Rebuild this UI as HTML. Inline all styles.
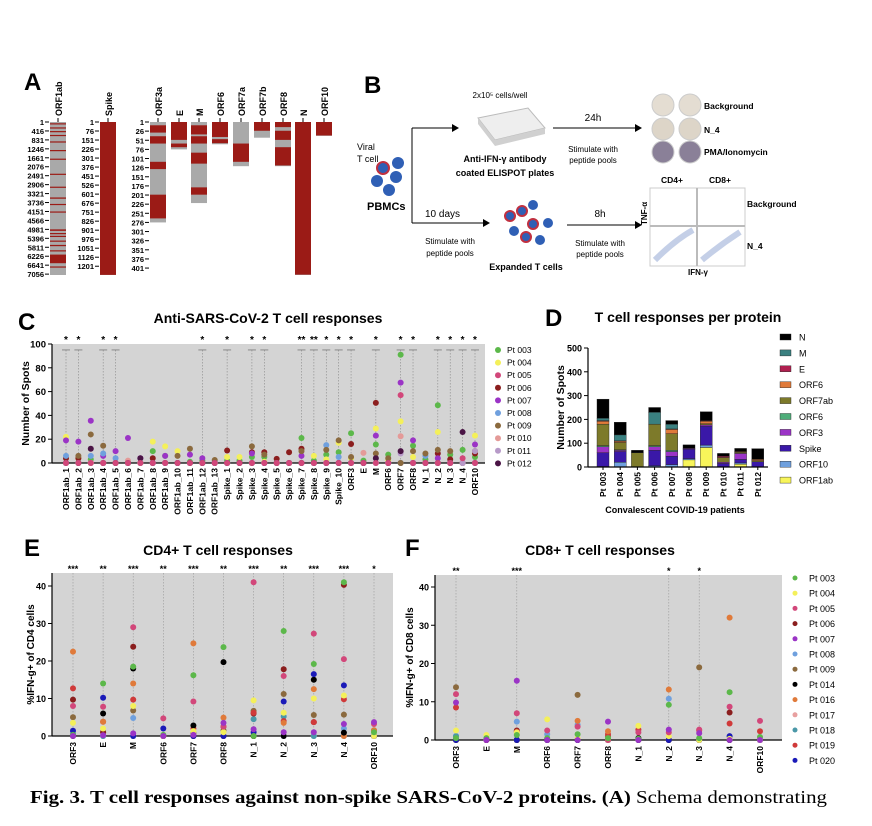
<!DOCTYPE html>
<html><head><meta charset="utf-8"><style>
html,body{margin:0;padding:0;background:#fff;}
svg{display:block;font-family:"Liberation Sans",Arial,sans-serif;}
.b{font-weight:bold;}
</style></head><body>
<svg id="fig" width="872" height="826" viewBox="0 0 872 826" xmlns="http://www.w3.org/2000/svg">
<rect width="872" height="826" fill="#fff"/>
<!-- Panel A -->
<g id="panelA">
<text x="24" y="90" font-size="24" class="b">A</text>
</g>
<!-- Panel B -->
<g id="panelB" font-family="Liberation Sans, sans-serif">
<text x="364" y="93" font-size="24" class="b">B</text>
<text x="357" y="150" font-size="9">Viral</text>
<text x="357" y="162" font-size="9">T cell</text>
<circle cx="383" cy="168" r="6" fill="#2f5fb5" stroke="#c03040" stroke-width="2"/>
<circle cx="398" cy="163" r="6" fill="#2f5fb5"/>
<circle cx="377" cy="181" r="6" fill="#2f5fb5"/>
<circle cx="396" cy="177" r="6" fill="#2f5fb5"/>
<circle cx="389" cy="190" r="6" fill="#2f5fb5"/>
<text x="367" y="210" font-size="11" class="b">PBMCs</text>
<path d="M412 128 V223 M412 128 H452 M412 223 H483" stroke="#000" stroke-width="1" fill="none"/>
<path d="M452 124 L459 128 L452 132 Z M483 219 L490 223 L483 227 Z" fill="#000"/>
<text x="425" y="217" font-size="10">10 days</text>
<text x="450" y="244" font-size="8" text-anchor="middle">Stimulate with</text>
<text x="450" y="256" font-size="8" text-anchor="middle">peptide pools</text>
<path d="M478 118 L528 108 L545 128 L495 140 Z" fill="#eeeeee" stroke="#bbb"/>
<path d="M495 140 L545 128 L545 134 L495 146 Z M478 118 L495 140 L495 146 L478 124 Z" fill="#d0d0d0"/>
<text x="500" y="98" font-size="8" text-anchor="middle">2x10⁵ cells/well</text>
<text x="505" y="162" font-size="9" class="b" text-anchor="middle">Anti-IFN-γ antibody</text>
<text x="505" y="176" font-size="9" class="b" text-anchor="middle">coated ELISPOT plates</text>
<path d="M553 128 H635 M567 225 H635" stroke="#000"/>
<path d="M635 124 L642 128 L635 132 Z M635 221 L642 225 L635 229 Z" fill="#000"/>
<text x="593" y="121" font-size="10" text-anchor="middle">24h</text>
<text x="593" y="152" font-size="8" text-anchor="middle">Stimulate with</text>
<text x="593" y="163" font-size="8" text-anchor="middle">peptide pools</text>
<text x="600" y="217" font-size="10" text-anchor="middle">8h</text>
<text x="600" y="246" font-size="8" text-anchor="middle">Stimulate with</text>
<text x="600" y="257" font-size="8" text-anchor="middle">peptide pools</text>
<circle cx="663" cy="105" r="11" fill="#e4ddd2" stroke="#ccc"/>
<circle cx="690" cy="105" r="11" fill="#e4ddd2" stroke="#ccc"/>
<circle cx="663" cy="129" r="11" fill="#ddd5c8" stroke="#ccc"/>
<circle cx="690" cy="129" r="11" fill="#ddd5c8" stroke="#ccc"/>
<circle cx="663" cy="152" r="11" fill="#8a8098" stroke="#ccc"/>
<circle cx="690" cy="152" r="11" fill="#8a8098" stroke="#ccc"/>
<text x="704" y="109" font-size="8.5" class="b">Background</text>
<text x="704" y="133" font-size="8.5" class="b">N_4</text>
<text x="704" y="155" font-size="8.5" class="b">PMA/Ionomycin</text>
<circle cx="510" cy="216" r="5" fill="#2f5fb5" stroke="#c03040" stroke-width="2"/>
<circle cx="522" cy="211" r="5" fill="#2f5fb5" stroke="#c03040" stroke-width="2"/>
<circle cx="533" cy="205" r="5" fill="#2f5fb5"/>
<circle cx="533" cy="224" r="5" fill="#2f5fb5" stroke="#c03040" stroke-width="2"/>
<circle cx="548" cy="223" r="5" fill="#2f5fb5"/>
<circle cx="514" cy="231" r="5" fill="#2f5fb5"/>
<circle cx="526" cy="237" r="5" fill="#2f5fb5" stroke="#c03040" stroke-width="2"/>
<circle cx="540" cy="240" r="5" fill="#2f5fb5"/>
<text x="526" y="270" font-size="9" class="b" text-anchor="middle">Expanded T cells</text>
<rect x="650" y="188" width="95" height="78" fill="#fff" stroke="#ccc"/>
<path d="M697 188 V266 M650 226 H745" stroke="#bbb" stroke-width="2"/>
<path d="M655 260 Q675 240 693 230 M702 260 Q720 245 740 232" stroke="#8aa0d0" stroke-width="6" fill="none" opacity="0.5"/>
<text x="672" y="183" font-size="8.5" class="b" text-anchor="middle">CD4+</text>
<text x="720" y="183" font-size="8.5" class="b" text-anchor="middle">CD8+</text>
<text transform="translate(647,225) rotate(-90)" font-size="8" class="b">TNF-α</text>
<text x="747" y="207" font-size="8.5" class="b">Background</text>
<text x="747" y="249" font-size="8.5" class="b">N_4</text>
<text x="698" y="275" font-size="8" class="b" text-anchor="middle">IFN-γ</text>
</g>
<g id="panelC"></g>
<g id="panelD"></g>
<g id="panelE"></g>
<g id="panelF"></g>
<text x="30" y="803" font-family="Liberation Serif, serif" font-size="18" textLength="797" lengthAdjust="spacingAndGlyphs"><tspan font-weight="bold">Fig. 3. T cell responses against non-spike SARS-CoV-2 proteins. (A)</tspan> Schema demonstrating</text>
</svg>
<script>
const NS='http://www.w3.org/2000/svg';
function mk(tag,attrs,parent,txt){const e=document.createElementNS(NS,tag);for(const k in attrs)e.setAttribute(k,attrs[k]);if(txt!==undefined)e.textContent=txt;parent.appendChild(e);return e;}

// ---------- Panel A data ----------
const aProteins=['ORF1ab','Spike','ORF3a','E','M','ORF6','ORF7a','ORF7b','ORF8','N','ORF10'];
const aLengths=[7096,1273,275,75,222,61,121,43,121,419,38];
const aTicks1ab=['1','416','831','1246','1661','2076','2491','2906','3321','3736','4151','4566','4981','5396','5811','6226','6641','7056'];
const aTicksSpike=['1','76','151','226','301','376','451','526','601','676','751','826','901','976','1051','1126','1201'];
const aTicksSmall=['1','26','51','76','101','126','151','176','201','226','251','276','301','326','351','376','401'];
// red (covered) segments as [start,end] residue positions
const aRed=[
 [[60,110],[250,300],[420,450],[600,640],[900,930],[1300,1340],[1700,1730],[2400,2450],[3000,3030],[3500,3560],[3800,3830],[4150,4190],[4980,5050],[5150,5200],[5280,5320],[5500,5540],[5700,5760],[5950,6000],[6150,6550],[6700,6720]],
 [[1,1273]],
 [[10,30],[40,60],[110,130],[200,265]],
 [[1,50],[60,70]],
 [[10,35],[40,60],[85,115],[180,200]],
 [[1,42],[48,59]],
 [[60,110]],
 [[1,25]],
 [[1,15],[25,50],[70,120]],
 [[1,419]],
 [[1,38]]
];
(function(){
 const g=document.getElementById('panelA');
 const barX=[50,100,150,171,191,212,233,254,275,295,316];
 const top=122,fullH=153;
 const scaleLen=[7096,1273,419,419,419,419,419,419,419,419,419];
 aProteins.forEach((p,i)=>{
  const ppx=fullH/scaleLen[i];
  const h=aLengths[i]*ppx;
  const r=mk('rect',{x:barX[i],y:top,width:16,height:h,fill:'#a9a9a9'},g);
  
  
  aRed[i].forEach(s=>{
   const rr=mk('rect',{x:barX[i],y:top+(s[0]-1)*ppx,width:16,height:Math.max(1.2,(s[1]-s[0])*ppx),fill:'#9b1b16'},g);
   
   
  });
  const t=mk('text',{transform:`translate(${barX[i]+12},${top-6}) rotate(-90)`,'font-size':9,'font-weight':'bold'},g,p);
  
  
  mk('line',{x1:barX[i]+8,x2:barX[i]+8,y1:top-4,y2:top,stroke:'#000'},g);
 });
 const tickSets=[[aTicks1ab,50,7096],[aTicksSpike,100,1273],[aTicksSmall,150,419]];
 tickSets.forEach(([labs,bx,len])=>{
  labs.forEach(l=>{
   const y=top+(parseFloat(l)-1)*fullH/len;
   mk('line',{x1:bx-5,x2:bx-1,y1:y,y2:y,stroke:'#000'},g);
   const t=mk('text',{x:bx-6,y:y+3,'font-size':7.5,'font-weight':'bold','text-anchor':'end'},g,l);
   
   
  });
 });
})();

// ---------- Panel C data ----------
const cCats=['ORF1ab_1','ORF1ab_2','ORF1ab_3','ORF1ab_4','ORF1ab_5','ORF1ab_6','ORF1ab_7','ORF1ab_8','ORF1ab_9','ORF1ab_10','ORF1ab_11','ORF1ab_12','ORF1ab_13','Spike_1','Spike_2','Spike_3','Spike_4','Spike_5','Spike_6','Spike_7','Spike_8','Spike_9','Spike_10','ORF3','E','M','ORF6','ORF7','ORF8','N_1','N_2','N_3','N_4','ORF10'];
const cPatients=['Pt 003','Pt 004','Pt 005','Pt 006','Pt 007','Pt 008','Pt 009','Pt 010','Pt 011','Pt 012'];
const cPt003=[0,0,3,0,0,0,0,10,6,0,1,2,0,2,2,5,5,0,0,21,2,7,9,25,2,15.5,7,91,14.5,3,48.5,7,11,5];
const cPt004=[22,4,0,0,0,0,0,18,14,10,0,0,0,5,5,0,1,0,0,0,6,3,17,4,0,29,2,35,5,0,26,0,0,23];
const cPt005=[0,0,0,0,0,0,0,0,0,0,0,0,0,0,0,0,0,0,0,0,0,0,0,0,0,0,0,57,0,0,0,0,4,0];
const cPt006=[4,4,0,0,0,0,0,4,0,0,0,0,0,10.5,0,9,9,3.5,9,12,0,0,0,16,0,50.5,0,0,0,0,8,3,0,8];
const cPt007=[19,18,35.5,6,10,21,4,0,6,0,7,4,0,0,0,8,0,0,0,6,0,0,0,0,0,23,0,67.5,19,0,4,0,0,15.5];
const cPt008=[6,0,6,8,4,0,0,0,0,0,0,0,1,0,0,0,0,0,0,0,0,15,5,0,0,0,0,0,0,6,0,0,0,0];
const cPt009=[0,6,24,14.5,0,0,0,0,0,6,12,0,2.5,0,0,14,7,0,0,10,0,11,19,5,0,8,4,0,10,8,11,10,0,10];
const cPt010=[0,0,0,0,0,2,0,0,0,0,0,0,0,0,0,0,0,0,0,0,0,0,0,0,8.5,0,0,22.5,0,0,0,0,0,0];
const cPt011=[0,0,0,0,0,0,0,0,0,0,0,0,0,0,0,0,0,0,0,0,0,0,0,0,0,0,0,8,0,0,0,0,0,10];
const cPt012=[0,0,12,0,0,0,4,0,0,0,0,0,0,0,0,0,0,0,0,0,0,0,0,0,0,4,0,10,0,0,0,0,26,0];
const cStars=['*','*','','*','*','','','','','','','*','','*','','*','*','','','**','**','*','*','*','','*','','*','*','','*','*','*','*'];
const cTicks=[0,20,40,60,80,100];
const cColors=['#5cb84a','#f4f05a','#d2477a','#8b1e1e','#9b34c6','#6fa0de','#8b6a3e','#e49a98','#b79ac8','#4a1445'];

(function(){
 const g=document.getElementById('panelC');
 const L=52,R=485,T=344,B=463;
 const x=i=>66+i*(475-66)/(cCats.length-1);
 const y=v=>B-v*(B-T)/100;
 let t=mk('text',{x:18,y:330,'font-size':24,'font-weight':'bold'},g,'C');
 
 t=mk('text',{x:268,y:323,'font-size':14,'font-weight':'bold','text-anchor':'middle'},g,'Anti-SARS-CoV-2 T cell responses');
 
 const bg=mk('rect',{x:L,y:T,width:R-L,height:B-T,fill:'#d4d4d4'},g);
 
 cStars.forEach((s,i)=>{
  if(!s)return;
  const ln=mk('line',{x1:x(i),x2:x(i),y1:y(95),y2:B,stroke:'#888','stroke-width':0.6,'stroke-dasharray':'1.5,1.5'},g);
  
  mk('line',{x1:x(i)-4,x2:x(i)+4,y1:y(95),y2:y(95),stroke:'#777','stroke-width':0.8},g);
  const st=mk('text',{x:x(i),y:T-1,'font-size':10,'font-weight':'bold','text-anchor':'middle'},g,s);
  
 });
 mk('line',{x1:L,x2:L,y1:T,y2:B,stroke:'#000','stroke-width':1.2},g);
 mk('line',{x1:L,x2:R,y1:B,y2:B,stroke:'#000','stroke-width':1.2},g);
 cTicks.forEach(v=>{
  mk('line',{x1:L-4,x2:L,y1:y(v),y2:y(v),stroke:'#000'},g);
  const tl=mk('text',{x:L-6,y:y(v)+3.5,'font-size':9.5,'font-weight':'bold','text-anchor':'end'},g,String(v));
  
 });
 t=mk('text',{transform:`translate(29,${(T+B)/2}) rotate(-90)`,'font-size':10.5,'font-weight':'bold','text-anchor':'middle'},g,'Number of Spots');
 
 cCats.forEach((c,i)=>{
  mk('line',{x1:x(i),x2:x(i),y1:B,y2:B+3,stroke:'#000'},g);
  const tl=mk('text',{transform:`translate(${x(i)+3},${B+5}) rotate(-90)`,'font-size':8.5,'font-weight':'bold','text-anchor':'end'},g,c);
  
 });
 const series=[cPt003,cPt004,cPt006,cPt007,cPt008,cPt009,cPt010,cPt011,cPt012,cPt005];
 const sColors=[cColors[0],cColors[1],cColors[3],cColors[4],cColors[5],cColors[6],cColors[7],cColors[8],cColors[9],cColors[2]];
 series.forEach((arr,si)=>{
  arr.forEach((v,i)=>{
   const d=mk('circle',{cx:x(i),cy:y(v),r:3,fill:sColors[si]},g);
   
  });
 });
 cPatients.forEach((p,i)=>{
  const yy=350+i*12.6;
  const d=mk('circle',{cx:498,cy:yy,r:3,fill:cColors[i]},g);
  
  const tl=mk('text',{x:507,y:yy+3,'font-size':8.5},g,p);
  
 });
})();

// ---------- Panel D data ----------
const dPatients=['Pt 003','Pt 004','Pt 005','Pt 006','Pt 007','Pt 008','Pt 009','Pt 010','Pt 011','Pt 012'];
const dProteins=['ORF1ab','ORF10','Spike','ORF3','ORF6','ORF7ab','ORF8','E','M','N'];
const dORF1ab=[0,0,0,0,0,30,82,0,12,0];
const dORF10=[2,20,0,5,10,5,10,0,5,0];
const dSpike=[58,45,0,65,35,40,80,15,15,22];
const dORF3=[25,5,0,15,20,3,5,5,25,0];
const dORF6=[5,3,0,5,5,0,0,0,0,0];
const dORF7ab=[90,30,60,90,70,0,5,20,5,5];
const dORF8=[12,5,0,0,18,0,10,0,3,5];
const dE=[3,2,0,0,2,0,3,5,0,0];
const dM=[10,25,0,50,20,0,0,0,0,0];
const dN=[80,53,10,20,15,15,37,12,13,45];
const dTicks=[0,100,200,300,400,500];
const dColors=['#f8f55a','#6fa0de','#3a18a8','#9b34c6','#4fae7a','#7d7a2a','#e07a3a','#b02050','#3a8080','#000000'];
(function(){
 const g=document.getElementById('panelD');
 const L=588,B=467,T=348;
 const x=i=>603+i*17.2;
 const y=v=>B-v*(B-T)/500;
 let t=mk('text',{x:545,y:326,'font-size':24,'font-weight':'bold'},g,'D');
 
 t=mk('text',{x:688,y:322,'font-size':14,'font-weight':'bold','text-anchor':'middle'},g,'T cell responses per protein');
 
 const stacks=[dORF1ab,dORF10,dSpike,dORF3,dORF6,dORF7ab,dORF8,dE,dM,dN];
 dPatients.forEach((p,i)=>{
  let cum=0;
  stacks.forEach((arr,si)=>{
   const v=arr[i];if(!v)return;
   const r=mk('rect',{x:x(i)-6,y:y(cum+v),width:12,height:y(cum)-y(cum+v),fill:dColors[si],stroke:'#222','stroke-width':0.4},g);
   
   cum+=v;
  });
  mk('line',{x1:x(i),x2:x(i),y1:B,y2:B+3,stroke:'#000'},g);
  const tl=mk('text',{transform:`translate(${x(i)+3},${B+5}) rotate(-90)`,'font-size':8.5,'font-weight':'bold','text-anchor':'end'},g,p);
  
 });
 mk('line',{x1:L,x2:L,y1:T,y2:B,stroke:'#000','stroke-width':1.2},g);
 mk('line',{x1:L,x2:768,y1:B,y2:B,stroke:'#000','stroke-width':1.2},g);
 dTicks.forEach(v=>{
  mk('line',{x1:L-4,x2:L,y1:y(v),y2:y(v),stroke:'#000'},g);
  const tl=mk('text',{x:L-6,y:y(v)+3.5,'font-size':9,'font-weight':'bold','text-anchor':'end'},g,String(v));
  
 });
 t=mk('text',{transform:`translate(564,${(T+B)/2}) rotate(-90)`,'font-size':10.5,'font-weight':'bold','text-anchor':'middle'},g,'Number of Spots');
 
 t=mk('text',{x:675,y:513,'font-size':9,'font-weight':'bold','text-anchor':'middle'},g,'Convalescent COVID-19 patients');
 
 const legOrder=[9,8,7,6,5,4,3,2,1,0];
 const legLabels=['N','M','E','ORF6','ORF7ab','ORF6','ORF3','Spike','ORF10','ORF1ab'];
 legOrder.forEach((si,k)=>{
  const yy=337+k*15.9;
  const r=mk('rect',{x:780,y:yy-3,width:11,height:6,fill:dColors[si],stroke:'#222','stroke-width':0.4},g);
  
  const tl=mk('text',{x:799,y:yy+3.5,'font-size':9},g,legLabels[k]);
  
 });
})();

// ---------- Panels E & F data ----------
const efCats=['ORF3','E','M','ORF6','ORF7','ORF8','N_1','N_2','N_3','N_4','ORF10'];
const efPatients=['Pt 003','Pt 004','Pt 005','Pt 006','Pt 007','Pt 008','Pt 009','Pt 014','Pt 016','Pt 017','Pt 018','Pt 019','Pt 020'];
const efColors=['#5cb84a','#f4f05a','#d2477a','#8b1e1e','#9b34c6','#6fa0de','#8b6a3e','#000000','#e07a3a','#e8a0a0','#4a98a8','#d03a3a','#1a1ab8'];
const eTicks=[0,10,20,30,40];
const eStars=['***','**','***','**','***','**','***','**','***','***','*'];
const ePt003=[0.3,14,18.5,0.3,16.2,23.7,0,28,19.2,41,1];
const ePt004=[3.5,2,8,0,1.3,1,9.5,6.2,10,10.8,0];
const ePt005=[8,7.8,29,4.7,9.2,2.5,41,16,27.3,20.5,3.2];
const ePt006=[9.7,1,23.8,0,0,0,6,17.8,3.7,40.3,0];
const ePt007=[0,0.2,0.7,0,0.3,3.5,1.8,1,1,3.2,3.7];
const ePt008=[0.5,0,4.8,0,0,0,0,0,0,2,0];
const ePt009=[5,1,6.8,0,0.8,1.5,6.7,11.2,5.6,5.7,1.5];
const ePt014=[0,6,18,0,2.8,19.7,0,0,15,0.9,0];
const ePt016=[22.5,3.8,14,0,24.7,4.9,0,3.5,12.5,0,1.5];
const ePt017=[0,0,0,0,0,0,0,0,0,0,0];
const ePt018=[0.5,0,0,0,0,0,4.5,5.2,0,0,0];
const ePt019=[12.7,3.8,9.7,0,2,2.5,6.2,4,3.7,9.8,0];
const ePt020=[1.4,10.2,0,2,0,0,1,9.2,16.5,13.5,0];
const fTicks=[0,10,20,30,40];
const fStars=['**','','***','','','','','*','*','',''];
const fPt003=[0.5,0.5,1.3,0.5,1.5,0.5,0.3,9.2,0.5,12.5,0.8];
const fPt004=[2.5,1.3,2,5.4,0.5,0,3.7,1,0,0.3,0];
const fPt005=[12,0,7,2.5,3.5,0,2,2,2.7,8.7,5];
const fPt006=[0,0,2.5,0,0,0,0,0,0,7.2,0];
const fPt007=[9.8,0,15.5,0,0,4.8,0,2.7,1.8,0,0];
const fPt008=[1,0,4.8,1.5,4,0,0,10.8,0,0,0];
const fPt009=[13.8,0,0,0,11.8,1,0,0,19,0,0];
const fPt014=[0,0,0,0,0,0,0.5,0,0,0,0];
const fPt016=[0,0,0,0,5,2.3,0,13.2,0,32,0];
const fPt017=[0,0,0,0,0,0,0,0,0,0,0];
const fPt018=[1,0,0,0,0,0,0,0,0,0,0];
const fPt019=[8.5,0,2.2,0,0,1.5,2.7,0,2.5,4.3,2.3];
const fPt020=[0,0,0,0,0,0,0,0,0,1,0];

function drawEF(gid,cfg){
 const g=document.getElementById(gid);
 const {L,R,T,B,x0,x1,letter,lx,title,tx,ytitle,ytx,series,stars,ticks}=cfg;
 const x=i=>x0+i*(x1-x0)/(efCats.length-1);
 const y=v=>B-v*(B-cfg.y40)/40;
 let t=mk('text',{x:lx,y:556,'font-size':24,'font-weight':'bold'},g,letter);
 
 t=mk('text',{x:tx,y:555,'font-size':14,'font-weight':'bold','text-anchor':'middle'},g,title);
 
 const bg=mk('rect',{x:L,y:T,width:R-L,height:B-T,fill:'#d4d4d4'},g);
 
 efCats.forEach((c,i)=>{
  if(stars[i]){
   const ln=mk('line',{x1:x(i),x2:x(i),y1:T,y2:B,stroke:'#999','stroke-width':0.6,'stroke-dasharray':'1.5,1.5'},g);
   
   const st=mk('text',{x:x(i),y:T-1,'font-size':9,'font-weight':'bold','text-anchor':'middle'},g,stars[i]);
   
  }
  mk('line',{x1:x(i),x2:x(i),y1:B,y2:B+3,stroke:'#000'},g);
  const tl=mk('text',{transform:`translate(${x(i)+3},${B+6}) rotate(-90)`,'font-size':8.5,'font-weight':'bold','text-anchor':'end'},g,c);
  
 });
 mk('line',{x1:L,x2:L,y1:T,y2:B,stroke:'#000','stroke-width':1.2},g);
 mk('line',{x1:L,x2:R,y1:B,y2:B,stroke:'#000','stroke-width':1.2},g);
 ticks.forEach(v=>{
  mk('line',{x1:L-4,x2:L,y1:y(v),y2:y(v),stroke:'#000'},g);
  const tl=mk('text',{x:L-6,y:y(v)+3.5,'font-size':9,'font-weight':'bold','text-anchor':'end'},g,String(v));
  
 });
 t=mk('text',{transform:`translate(${ytx},${(T+B)/2}) rotate(-90)`,'font-size':10,'font-weight':'bold','text-anchor':'middle'},g,ytitle);
 
 series.forEach((arr,si)=>{
  arr.forEach((v,i)=>{
   const d=mk('circle',{cx:x(i),cy:y(v),r:3,fill:efColors[si]},g);
   
  });
 });
}
drawEF('panelE',{L:52,R:393,T:573,B:736,y40:586,x0:73,x1:374,letter:'E',lx:24,title:'CD4+ T cell responses',tx:218,ytitle:'%IFN-g+ of CD4 cells',ytx:34,
 series:[ePt017,ePt008,ePt018,ePt009,ePt006,ePt019,ePt016,ePt014,ePt020,ePt004,ePt005,ePt003,ePt007],stars:eStars,ticks:eTicks});
drawEF('panelF',{L:435,R:782,T:575,B:740,y40:587,x0:456,x1:760,letter:'F',lx:405,title:'CD8+ T cell responses',tx:600,ytitle:'%IFN-g+ of CD8 cells',ytx:413,
 series:[fPt017,fPt008,fPt018,fPt009,fPt006,fPt019,fPt016,fPt014,fPt020,fPt004,fPt005,fPt003,fPt007],stars:fStars,ticks:fTicks});
// fix colour order for reordered series draw: recolour by mapping
(function(){
 const order=[9,5,10,6,3,11,8,7,12,1,2,0,4];
 ['panelE','panelF'].forEach(id=>{
  const pts=document.getElementById(id).querySelectorAll('circle');
  pts.forEach((c,k)=>{c.setAttribute('fill',efColors[order[Math.floor(k/efCats.length)]]);});
 });
 const g=document.getElementById('panelF');
 efPatients.forEach((p,i)=>{
  const yy=578+i*15.2;
  const d=mk('circle',{cx:795,cy:yy,r:2.5,fill:efColors[i]},g);
  
  const tl=mk('text',{x:809,y:yy+3.5,'font-size':9},g,p);
  
 });
})();
</script>
</body></html>
